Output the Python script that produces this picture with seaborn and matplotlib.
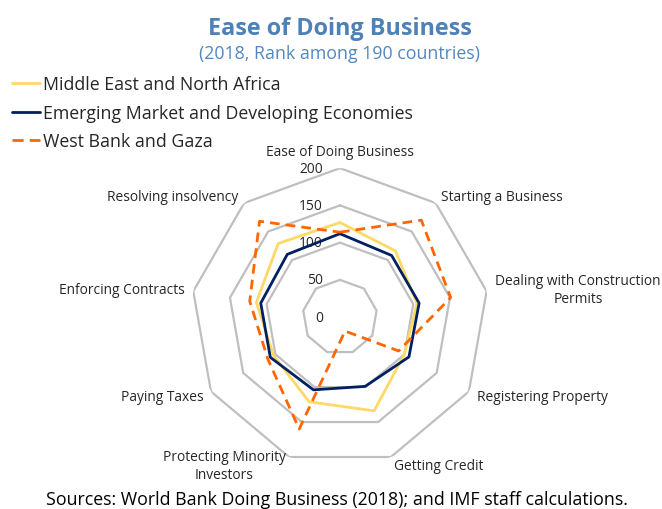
import numpy as np
import pandas as pd
import matplotlib
matplotlib.use("Agg")
import matplotlib.pyplot as plt
from matplotlib.lines import Line2D
from matplotlib.transforms import offset_copy
import seaborn as sns

# Data (ranks out of 190)
categories = ["Ease of Doing Business", "Starting a Business",
              "Dealing with Construction\nPermits", "Registering Property",
              "Getting Credit", "Protecting Minority\nInvestors", "Paying Taxes",
              "Enforcing Contracts", "Resolving insolvency"]
mena = [127, 116, 105, 100, 134, 121, 103, 114, 129]
emde = [112, 108, 108, 107, 99, 104, 108, 108, 110]
wbg = [114, 170, 151, 91, 20, 160, 112, 123, 168]
series_names = ["Middle East and North Africa",
                "Emerging Market and Developing Economies",
                "West Bank and Gaza"]
levels = [50, 100, 150, 200]

colors = {series_names[0]: "#FFD966", series_names[1]: "#002060",
          series_names[2]: "#FF6600"}
dash_map = {series_names[0]: "", series_names[1]: "", series_names[2]: (3.5, 2.2)}

sns.set_theme(style="white")
plt.rcParams["font.family"] = ["Open Sans", "DejaVu Sans"]

n = len(categories)
angles = np.linspace(0, 2 * np.pi, n, endpoint=False)
theta_closed = np.append(angles, 2 * np.pi)

rows = []
for name, vals in zip(series_names, [mena, emde, wbg]):
    for i, t in enumerate(theta_closed):
        rows.append({"series": name, "theta": t, "rank": vals[i % n], "order": i})
df = pd.DataFrame(rows)

fig = plt.figure(figsize=(6.62, 5.10), dpi=100)
ax = fig.add_axes([0.2885, 0.0843, 0.450, 0.584], projection="polar")
ax.set_theta_zero_location("N")
ax.set_theta_direction(-1)
ax.set_ylim(0, 200)
ax.grid(False)
ax.spines["polar"].set_visible(False)
ax.set_xticks([])
ax.set_yticks([])
ax.patch.set_alpha(0)

# polygon grid
for lv in levels:
    ax.plot(theta_closed, [lv] * (n + 1), color="#BFBFBF", lw=1.6, zorder=1,
            solid_joinstyle="miter")

sns.lineplot(data=df, x="theta", y="rank", hue="series", style="series",
             palette=colors, dashes=dash_map, sort=False, estimator=None,
             units="series", lw=2.0, ax=ax, legend=False, zorder=3)
ax.set_xlabel("")
ax.set_ylabel("")

# radial value labels
off = offset_copy(ax.transData, fig=fig, x=-17, y=0, units="dots")
for lv in [0] + levels:
    ax.text(0, lv, str(lv), transform=off, ha="right", va="center",
            fontsize=9.9, color="#262626", zorder=2)

# category labels
for t, lab in zip(angles, categories):
    s = np.sin(t)
    c = np.cos(t)
    if abs(s) < 0.1:
        ha = "center"
    elif s > 0:
        ha = "left"
    else:
        ha = "right"
    va = "bottom" if c > 0.9 else "center"
    ax.text(t, 212, lab, ha=ha, va=va, fontsize=9.9, color="#262626",
            multialignment="center", linespacing=1.25)

fig.text(0.513, 0.931, "Ease of Doing Business", ha="center", va="baseline",
         fontsize=16.8, fontweight="bold", color="#4E81B5")
fig.text(0.513, 0.885, "(2018, Rank among 190 countries)", ha="center",
         va="baseline", fontsize=12.8, color="#5287BF")

handles = [Line2D([], [], color=colors[s], lw=2,
                  linestyle=(0, (4, 2.2)) if dash_map[s] else "-")
           for s in series_names]
fig.legend(handles, series_names, loc="upper left", bbox_to_anchor=(0.0074, 0.864),
           frameon=False, fontsize=12.8, handlelength=1.6, handletextpad=0.12,
           labelspacing=0.58, borderaxespad=0)

fig.text(0.509, 0.02, "Sources: World Bank Doing Business (2018); and IMF staff calculations.",
         ha="center", va="center", fontsize=12.8, color="black")

fig.savefig("out.png", dpi=100)
